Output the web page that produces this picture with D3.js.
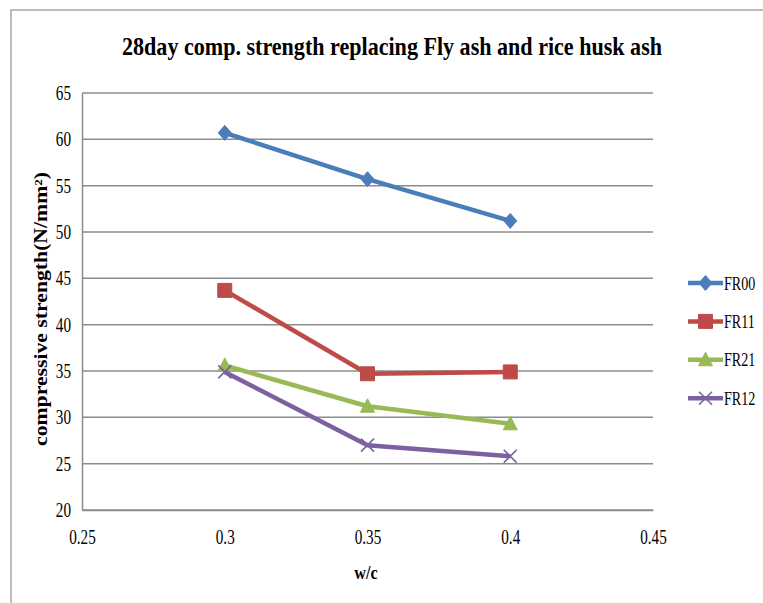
<!DOCTYPE html>
<html>
<head>
<meta charset="utf-8">
<script src="https://cdn.jsdelivr.net/npm/d3@7"></script>
<style>
  html, body { margin: 0; padding: 0; background: #fff; }
  svg { display: block; }
  svg text { font-family: "Liberation Serif", "Times New Roman", serif !important; fill: #000; }
</style>
</head>
<body>
<svg id="chart" width="763" height="603"></svg>
<script>
// w/c ratios tested
const waterCement = [0.3, 0.35, 0.4];

// 28-day compressive strength (N/mm²) for each mix
const fr00 = [60.7, 55.7, 51.2];
const fr11 = [43.7, 34.7, 34.9];
const fr21 = [35.6, 31.2, 29.3];
const fr12 = [34.9, 27.0, 25.8];

const seriesNames = ["FR00", "FR11", "FR21", "FR12"];
const seriesColors = ["#4a7ebb", "#be4b48", "#98b954", "#7d60a0"];
const seriesMarkers = ["diamond", "square", "triangle", "cross"];

const xTicks = [0.25, 0.3, 0.35, 0.4, 0.45];
const yTicks = [20, 25, 30, 35, 40, 45, 50, 55, 60, 65];

const titleText = "28day comp. strength replacing Fly ash and rice husk ash";
const xTitle = "w/c";
const yTitle = "compressive strength(N/mm²)";

const series = seriesNames.map((name, i) => ({
  name,
  color: seriesColors[i],
  marker: seriesMarkers[i],
  values: [fr00, fr11, fr21, fr12][i].map((v, j) => ({ x: waterCement[j], y: v }))
}));

const svg = d3.select("#chart");
const plot = { left: 82, right: 653, top: 93, bottom: 510 };

const x = d3.scaleLinear().domain([0.25, 0.45]).range([plot.left, plot.right]);
const y = d3.scaleLinear().domain([20, 65]).range([plot.bottom, plot.top]);

// narrow the serif glyphs a little, like a condensed Times face
function condense(sel, factor) {
  sel.each(function () {
    const w = this.getComputedTextLength();
    d3.select(this).attr("textLength", w * factor).attr("lengthAdjust", "spacingAndGlyphs");
  });
}

// outer chart frame
svg.append("rect")
  .attr("x", 11).attr("y", 10)
  .attr("width", 800).attr("height", 700)
  .attr("fill", "#fff")
  .attr("stroke", "#a6a6a6").attr("stroke-width", 1.5);

// title
svg.append("text")
  .attr("x", 392).attr("y", 55)
  .attr("text-anchor", "middle")
  .style("font-size", "26px").style("font-weight", "bold")
  .text(titleText)
  .attr("textLength", 540).attr("lengthAdjust", "spacingAndGlyphs");

// horizontal gridlines
svg.append("g")
  .selectAll("line")
  .data(yTicks)
  .join("line")
  .attr("x1", plot.left).attr("x2", plot.right)
  .attr("y1", d => y(d)).attr("y2", d => y(d))
  .attr("stroke", "#8c8c8c").attr("stroke-width", 1.5);

// y axis
const yAxis = svg.append("g")
  .attr("transform", `translate(${plot.left},0)`)
  .call(d3.axisLeft(y).tickValues(yTicks).tickSize(0).tickPadding(11).tickFormat(d3.format("d")));
yAxis.select(".domain").attr("stroke", "#8c8c8c").attr("stroke-width", 1.5);
yAxis.selectAll("text")
  .style("font-size", "20px").attr("fill", "#000")
  .call(condense, 0.76);

// x axis
const xAxis = svg.append("g")
  .attr("transform", `translate(0,${plot.bottom})`)
  .call(d3.axisBottom(x).tickValues(xTicks).tickSize(0).tickPadding(20).tickFormat(d => String(d)));
xAxis.select(".domain").attr("stroke", "#8c8c8c").attr("stroke-width", 1.5);
xAxis.selectAll("text")
  .style("font-size", "20px").attr("fill", "#000")
  .call(condense, 0.76);

// axis titles
svg.append("text")
  .attr("x", 366).attr("y", 579)
  .attr("text-anchor", "middle")
  .style("font-size", "19px").style("font-weight", "bold")
  .text(xTitle)
  .call(condense, 0.85);

svg.append("text")
  .attr("transform", "translate(47,309) rotate(-90)")
  .attr("text-anchor", "middle")
  .style("font-size", "18px").style("font-weight", "bold")
  .text(yTitle)
  .attr("textLength", 274).attr("lengthAdjust", "spacingAndGlyphs");

// marker shapes
function markerPath(kind) {
  switch (kind) {
    case "diamond": return "M0,-7.5L6.5,0L0,7.5L-6.5,0Z";
    case "square": return "M-7,-7H7V7H-7Z";
    case "triangle": return "M0,-7.5L7,6L-7,6Z";
    case "cross": return "M-6.5,-6.5L6.5,6.5M6.5,-6.5L-6.5,6.5";
  }
}
function drawMarker(g, kind, color) {
  const p = g.append("path").attr("d", markerPath(kind));
  if (kind === "cross") {
    p.attr("fill", "none").attr("stroke", color).attr("stroke-width", 1.6);
  } else {
    p.attr("fill", color).attr("stroke", color).attr("stroke-width", 1);
  }
}

const line = d3.line().x(d => x(d.x)).y(d => y(d.y));

const seriesG = svg.append("g")
  .selectAll("g")
  .data(series)
  .join("g");

seriesG.append("path")
  .attr("d", d => line(d.values))
  .attr("fill", "none")
  .attr("stroke", d => d.color)
  .attr("stroke-width", 4.5)
  .attr("stroke-linejoin", "round");

seriesG.each(function (s) {
  d3.select(this).selectAll("g.pt")
    .data(s.values)
    .join("g")
    .attr("class", "pt")
    .attr("transform", d => `translate(${x(d.x)},${y(d.y)})`)
    .each(function () { drawMarker(d3.select(this), s.marker, s.color); });
});

// legend
const legend = svg.append("g")
  .selectAll("g")
  .data(series)
  .join("g")
  .attr("transform", (d, i) => `translate(688,${283 + i * 38.4})`);

legend.append("line")
  .attr("x1", 0).attr("x2", 35)
  .attr("stroke", d => d.color).attr("stroke-width", 4.5);
legend.each(function (d) {
  const m = d3.select(this).append("g").attr("transform", "translate(17.5,0)");
  drawMarker(m, d.marker, d.color);
});
// legend labels: horizontally squeezed with a transform so the box stays narrow
legend.append("text")
  .attr("transform", "translate(36,0) scale(0.74,1)")
  .attr("dy", "0.35em")
  .style("font-size", "19px")
  .text(d => d.name);
</script>
</body>
</html>
